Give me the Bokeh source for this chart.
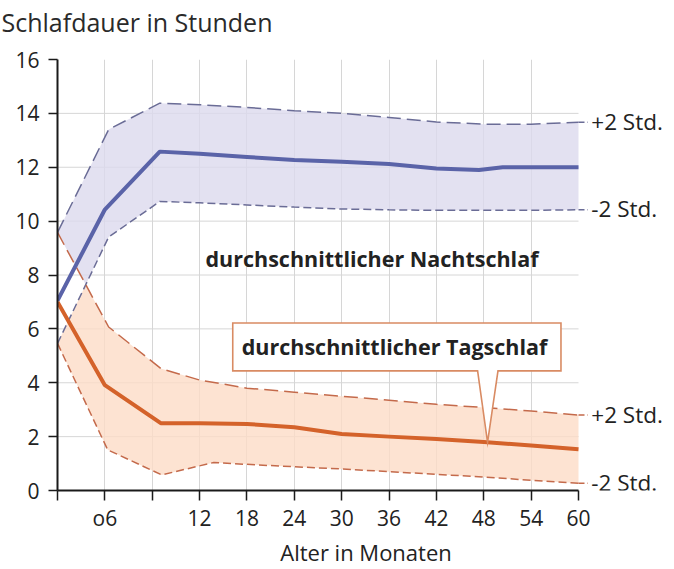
from bokeh.plotting import figure
from bokeh.models import FixedTicker, Label, LinearAxis, Title
from bokeh.embed import file_html
from bokeh.resources import INLINE

# x positions are axis slots: 0 = start, 1 = "o6", 2 = unlabelled, 3 = 12 months ... 11 = 60 months
tick_pos = list(range(12))
tick_labels = ["", "o6", "", "12", "18", "24", "30", "36", "42", "48", "54", "60"]
y_ticks = [0, 2, 4, 6, 8, 10, 12, 14, 16]

night_band_x = [0, 1.08, 2.16, 3, 4, 5, 6, 7, 8, 9, 10, 11]
night_upper = [9.58, 13.4, 14.38, 14.32, 14.22, 14.1, 14.0, 13.85, 13.68, 13.6, 13.6, 13.67]
night_lower = [5.46, 9.41, 10.73, 10.68, 10.6, 10.52, 10.45, 10.42, 10.4, 10.4, 10.4, 10.42]
night_mean_x = [0, 1, 2.16, 3, 4, 5, 6, 7, 8, 8.9, 9.4, 10, 11]
night_mean = [7.05, 10.43, 12.58, 12.5, 12.38, 12.27, 12.2, 12.12, 11.95, 11.9, 12.0, 12.0, 12.0]

day_upper_x = [0, 1.08, 2.18, 3, 4, 5, 6, 7, 8, 9, 10, 11]
day_upper = [9.58, 6.07, 4.53, 4.1, 3.8, 3.65, 3.5, 3.35, 3.2, 3.08, 2.95, 2.8]
day_lower_x = [0, 1.06, 2.2, 3.3, 4, 5, 6, 7, 8, 9, 10, 11]
day_lower = [5.46, 1.51, 0.58, 1.04, 0.97, 0.88, 0.8, 0.7, 0.6, 0.5, 0.38, 0.27]
day_mean_x = [0, 1, 2.18, 3, 4, 5, 6, 7, 8, 9, 10, 11]
day_mean = [7.0, 3.91, 2.5, 2.5, 2.47, 2.35, 2.1, 2.0, 1.91, 1.8, 1.67, 1.53]

FONT = "Open Sans"
TXT = "#222222"
NIGHT_FILL, NIGHT_LINE, NIGHT_DASH = "#dcdaed", "#5a63a8", "#6a6c96"
DAY_FILL, DAY_LINE, DAY_DASH = "#fcdcc7", "#d4622a", "#c46a4b"

W, H = 674, 569
LEFT, TOP, BOTTOM = 57, 59, 78
AXIS_PX = 521  # pixel width of the 11 axis slots
x_end = tick_pos[-1] * (W - LEFT) / AXIS_PX


def intersect(p1, p2, p3, p4):
    (x1, y1), (x2, y2), (x3, y3), (x4, y4) = p1, p2, p3, p4
    d = (x1 - x2) * (y3 - y4) - (y1 - y2) * (x3 - x4)
    t = ((x1 - x3) * (y3 - y4) - (y1 - y3) * (x3 - x4)) / d
    return x1 + t * (x2 - x1), y1 + t * (y2 - y1)


p = figure(width=W, height=H, x_range=(0, x_end), y_range=(0, 16),
           output_backend="svg", toolbar_location=None,
           min_border_left=LEFT, min_border_right=0, min_border_top=TOP, min_border_bottom=BOTTOM)
p.outline_line_color = None
p.title.text = ""
p.title.standoff = 0
p.title.text_font_size = "1px"

# grid: vertical lines from the grid, horizontal lines only up to the last tick
p.xgrid.ticker = FixedTicker(ticks=tick_pos[1:-1])
p.xgrid.grid_line_color = "#d6d6d6"
p.ygrid.grid_line_color = None
gy = y_ticks[1:-1]
p.segment(x0=[tick_pos[0]] * len(gy), y0=gy, x1=[tick_pos[-1]] * len(gy), y1=gy,
          line_color="#d6d6d6", line_width=1)

# axes
p.xaxis.ticker = FixedTicker(ticks=tick_pos)
p.xaxis.bounds = (tick_pos[0], tick_pos[-1])
p.xaxis.major_label_overrides = {i: l for i, l in zip(tick_pos, tick_labels)}
p.yaxis.ticker = FixedTicker(ticks=y_ticks)
for ax in (p.xaxis, p.yaxis):
    ax.axis_line_color = "#1a1a1a"
    ax.axis_line_width = 2
    ax.major_tick_line_color = "#1a1a1a"
    ax.major_tick_line_width = 1.5
    ax.major_tick_in = 0
    ax.minor_tick_line_color = None
    ax.major_label_text_font = FONT
    ax.major_label_text_font_size = "21px"
    ax.major_label_text_color = TXT
p.xaxis.major_tick_out = 10
p.xaxis.major_label_standoff = 3
p.yaxis.major_tick_out = 9
p.yaxis.major_label_standoff = 9
p.xaxis.axis_label = "Alter in Monaten"
p.xaxis.axis_label_text_font = FONT
p.xaxis.axis_label_text_font_size = "22px"
p.xaxis.axis_label_text_font_style = "normal"
p.xaxis.axis_label_text_color = TXT
p.xaxis.axis_label_standoff = 2

# blank spacer axis above the frame (white tick, empty label), then the chart title outside it
spacer = LinearAxis(ticker=FixedTicker(ticks=[tick_pos[-1]]), axis_line_color=None,
                    major_tick_line_color="white", minor_tick_line_color=None,
                    major_tick_out=20, major_tick_in=0, major_label_standoff=0,
                    major_label_overrides={tick_pos[-1]: ""},
                    major_label_text_font_size="1px", major_label_text_color="white")
p.add_layout(spacer, "above")
p.add_layout(Title(text="Schlafdauer in Stunden", align="left", offset=-56, text_font=FONT,
                   text_font_size="25px", text_font_style="normal", text_color="#2a2a2a",
                   standoff=2), "above")

# band fills (crossing at the start forms an X)
xc, yc = intersect((day_upper_x[0], day_upper[0]), (day_upper_x[1], day_upper[1]),
                   (night_band_x[0], night_lower[0]), (night_band_x[1], night_lower[1]))

nxs = [xc] + [x for x in night_band_x if x > xc] + night_band_x[::-1] + [x for x in day_upper_x if x < xc]
nys = [yc] + [y for x, y in zip(night_band_x, night_lower) if x > xc] + night_upper[::-1] + \
      [y for x, y in zip(day_upper_x, day_upper) if x < xc]
p.patch(nxs, nys, fill_color=NIGHT_FILL, fill_alpha=0.8, line_color=None)

dxs = [xc] + [x for x in day_upper_x if x > xc] + day_lower_x[::-1] + [x for x in night_band_x if x < xc]
dys = [yc] + [y for x, y in zip(day_upper_x, day_upper) if x > xc] + day_lower[::-1] + \
      [y for x, y in zip(night_band_x, night_lower) if x < xc]
p.patch(dxs, dys, fill_color=DAY_FILL, fill_alpha=0.8, line_color=None)

# dashed band borders
p.line(night_band_x, night_upper, line_color=NIGHT_DASH, line_width=1.5, line_dash="14 6")
p.line(night_band_x, night_lower, line_color=NIGHT_DASH, line_width=1.5, line_dash="8 4")
p.line(day_upper_x, day_upper, line_color=DAY_DASH, line_width=1.5, line_dash="14 6")
p.line(day_lower_x, day_lower, line_color=DAY_DASH, line_width=1.5, line_dash="8 4")

# means
p.line(night_mean_x, night_mean, line_color=NIGHT_LINE, line_width=4, line_join="round")
p.line(day_mean_x, day_mean, line_color=DAY_LINE, line_width=4, line_join="round")

# callout for Tagschlaf
i9, i10 = day_mean_x.index(9), day_mean_x.index(10)
tip_x = 9.08
tip_y = day_mean[i9] + (day_mean[i10] - day_mean[i9]) * (tip_x - 9)
bx0, bx1, by0, by1 = 3.70, 10.63, 4.44, 6.22
pl, pr = 8.87, 9.30
p.patch([bx0, bx1, bx1, pr, tip_x, pl, bx0], [by1, by1, by0, by0, tip_y, by0, by0],
        fill_color="white", line_color="#d98b63", line_width=1.6, line_join="miter")

# labels
p.add_layout(Label(x=3.89, y=5.34, text="durchschnittlicher Tagschlaf", text_font=FONT,
                   text_font_size="21.5px", text_font_style="bold", text_color=TXT,
                   text_baseline="middle", text_align="left"))
p.add_layout(Label(x=6.64, y=8.62, text="durchschnittlicher Nachtschlaf", text_font=FONT,
                   text_font_size="21.5px", text_font_style="bold", text_color=TXT,
                   text_baseline="middle", text_align="center"))

ends = [(night_upper[-1], "+2 Std.", NIGHT_DASH),
        (night_lower[-1], "-2 Std.", NIGHT_DASH),
        (day_upper[-1], "+2 Std.", DAY_DASH),
        (day_lower[-1], "-2 Std.", DAY_DASH)]
for yv, lab, col in ends:
    p.segment(x0=[tick_pos[-1]], y0=[yv], x1=[tick_pos[-1] + 0.2], y1=[yv],
              line_color=col, line_width=1.5, line_dash="6 3")
    p.add_layout(Label(x=tick_pos[-1] + 0.27, y=yv, y_offset=1, text=lab, text_font=FONT,
                       text_font_size="22.5px", text_color=TXT, text_baseline="middle",
                       text_align="left"))

open("out.html", "w").write(file_html(p, INLINE))
